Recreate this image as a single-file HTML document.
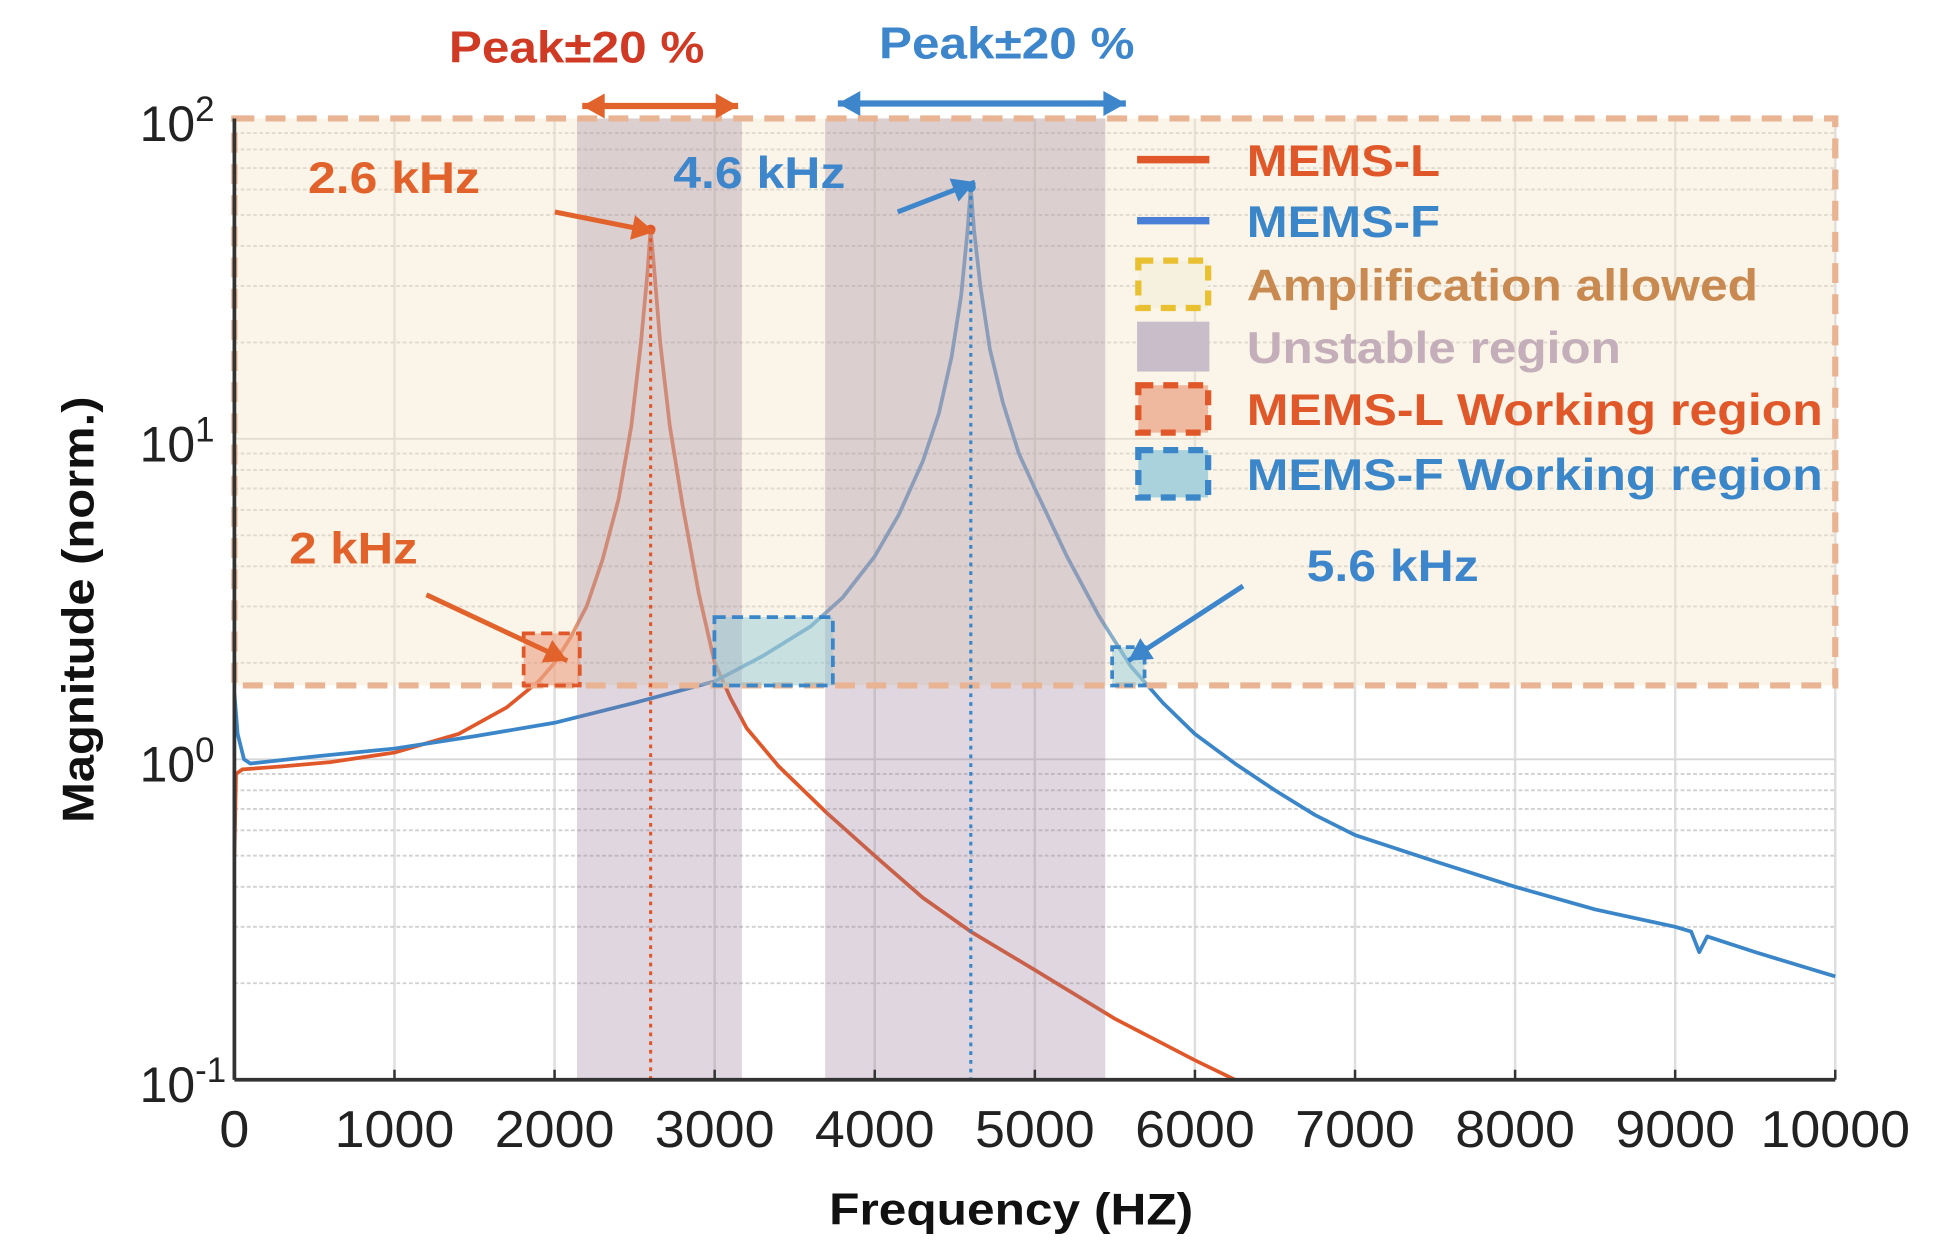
<!DOCTYPE html>
<html><head><meta charset="utf-8"><style>
html,body{margin:0;padding:0;background:#fff;}
svg{display:block;font-family:"Liberation Sans",sans-serif;}
</style></head><body>
<svg id="chart" width="1945" height="1255" viewBox="0 0 1560 1006.6" preserveAspectRatio="none" xmlns="http://www.w3.org/2000/svg">
<g id="grid"></g>
<g id="series"></g>
<g id="overlay"></g>
<g id="axes"></g>
<g id="annot">
  <text x="360" y="50" fill="#d03a24" font-size="36" font-weight="bold" textLength="205" lengthAdjust="spacingAndGlyphs">Peak±20 %</text>
  <text x="705" y="47" fill="#3d86cc" font-size="36" font-weight="bold" textLength="205" lengthAdjust="spacingAndGlyphs">Peak±20 %</text>
  <text x="247" y="155" fill="#e2622c" font-size="36" font-weight="bold" textLength="138" lengthAdjust="spacingAndGlyphs">2.6 kHz</text>
  <text x="540" y="151" fill="#3d86cc" font-size="36" font-weight="bold" textLength="138" lengthAdjust="spacingAndGlyphs">4.6 kHz</text>
  <text x="232" y="452" fill="#e2622c" font-size="36" font-weight="bold" textLength="103" lengthAdjust="spacingAndGlyphs">2 kHz</text>
  <text x="1048" y="466" fill="#3d86cc" font-size="36" font-weight="bold" textLength="138" lengthAdjust="spacingAndGlyphs">5.6 kHz</text>
  <text x="665" y="982" font-size="36" font-weight="bold" fill="#111" textLength="292" lengthAdjust="spacingAndGlyphs">Frequency (HZ)</text>
  <text transform="translate(75,660) rotate(-90)" font-size="36" font-weight="bold" fill="#111" textLength="342" lengthAdjust="spacingAndGlyphs">Magnitude (norm.)</text>
</g>
<g id="legend"></g>
</svg>
<script>
const xTicks=[0,1000,2000,3000,4000,5000,6000,7000,8000,9000,10000];
const yDecades=[-1,0,1,2];
const memsLFreq=[0,10,50,300,600,1000,1400,1700,1900,2000,2100,2200,2300,2400,2480,2540,2580,2600,2620,2660,2720,2800,2900,3000,3100,3200,3400,3700,4000,4300,4600,5000,5500,6000,6250];
const memsLMag=[0.5,0.9,0.93,0.95,0.98,1.05,1.2,1.45,1.75,2.0,2.4,3.0,4.2,6.5,11,20,33,45,35,20,11,6.2,3.3,2.0,1.55,1.25,0.95,0.68,0.5,0.37,0.29,0.22,0.155,0.115,0.1];
const memsFFreq=[0,20,60,100,500,1000,1500,2000,2500,3000,3300,3600,3800,4000,4150,4300,4400,4480,4540,4580,4600,4620,4660,4720,4800,4900,5000,5200,5400,5600,5800,6000,6250,6500,6750,7000,7500,8000,8500,9000,9100,9150,9200,9500,10000];
const memsFMag=[1.6,1.2,1.0,0.97,1.02,1.08,1.18,1.3,1.5,1.75,2.1,2.6,3.2,4.3,5.8,8.5,12,18,28,45,61,45,30,19,13,9,7,4.3,2.8,1.95,1.5,1.2,0.97,0.8,0.67,0.58,0.48,0.4,0.34,0.3,0.29,0.25,0.28,0.25,0.21];
const unstableBands=[[2140,3170],[3690,5440]];
const ampMin=1.7;
const NS="http://www.w3.org/2000/svg";
const X0=188,X1=1472,YT=95,YB=866;
const xs=f=>X0+(f/10000)*(X1-X0);
const ys=v=>YT+(2-Math.log10(v))/3*(YB-YT);
function mk(tag,attrs,parent){const e=document.createElementNS(NS,tag);for(const k in attrs)e.setAttribute(k,attrs[k]);parent.appendChild(e);return e;}
const grid=document.getElementById('grid'),series=document.getElementById('series'),ov=document.getElementById('overlay'),axes=document.getElementById('axes'),leg=document.getElementById('legend');
mk('rect',{x:X0,y:YT,width:X1-X0,height:YB-YT,fill:'#fff'},grid);
xTicks.forEach(t=>{const l=mk('line',{x1:xs(t),x2:xs(t),y1:YT,y2:YB,stroke:'#dedede','stroke-width':2},grid);

});
for(let d=-1;d<2;d++)for(let m=1;m<10;m++){const v=m*Math.pow(10,d);const l=mk('line',{x1:X0,x2:X1,y1:ys(v),y2:ys(v),stroke:m==1?'#d8d8d8':'#d0d0d0','stroke-width':1.5,'stroke-dasharray':m==1?'':'3 2'},grid);

}
function path(F,M){return F.map((f,i)=>(i?'L':'M')+xs(f).toFixed(1)+','+ys(Math.max(M[i],0.1)).toFixed(1)).join('');}
const pl=mk('path',{d:path(memsLFreq,memsLMag),fill:'none',stroke:'#e0582a','stroke-width':3,'stroke-linejoin':'round'},series);


const pf=mk('path',{d:path(memsFFreq,memsFMag),fill:'none',stroke:'#3a86c8','stroke-width':3,'stroke-linejoin':'round'},series);


const ampFill=mk('rect',{x:X0,y:YT,width:X1-X0,height:ys(ampMin)-YT,fill:'rgba(242,232,200,0.42)'},ov);


unstableBands.forEach(b=>{const r=mk('rect',{x:xs(b[0]),y:YT,width:xs(b[1])-xs(b[0]),height:YB-YT,fill:'rgba(150,118,150,0.3)'},ov);

});
const amp=mk('rect',{x:X0,y:YT,width:X1-X0,height:ys(ampMin)-YT,fill:'none',stroke:'#e9b493','stroke-width':5,'stroke-dasharray':'16 9'},ov);


mk('line',{x1:xs(2600),x2:xs(2600),y1:ys(45),y2:YB,stroke:'#e0582a','stroke-width':2.5,'stroke-dasharray':'3 4'},ov);
mk('line',{x1:xs(4600),x2:xs(4600),y1:ys(61),y2:YB,stroke:'#3a86c8','stroke-width':2.5,'stroke-dasharray':'3 4'},ov);
mk('circle',{cx:xs(2600),cy:ys(45),r:4,fill:'#e0582a'},ov);
mk('circle',{cx:xs(4600),cy:ys(61),r:4,fill:'#3a86c8'},ov);
const wl=mk('rect',{x:420,y:508,width:45,height:ys(ampMin)-508,fill:'rgba(235,150,120,0.55)',stroke:'#e0582a','stroke-width':3,'stroke-dasharray':'9 5'},ov);


const wf=mk('rect',{x:573,y:495,width:95,height:ys(ampMin)-495,fill:'rgba(140,200,215,0.45)',stroke:'#3a86c8','stroke-width':3,'stroke-dasharray':'9 5'},ov);


const wf2=mk('rect',{x:892,y:519,width:26,height:ys(ampMin)-519,fill:'rgba(140,200,215,0.45)',stroke:'#3a86c8','stroke-width':3,'stroke-dasharray':'7 4'},ov);


mk('line',{x1:X0,x2:X1,y1:YB,y2:YB,stroke:'#333','stroke-width':3},axes);
mk('line',{x1:X0,x2:X0,y1:YT,y2:YB,stroke:'#333','stroke-width':3},axes);
xTicks.forEach(t=>{mk('line',{x1:xs(t),x2:xs(t),y1:YB,y2:YB-8,stroke:'#333','stroke-width':2},axes);
const w=String(t).length*24;
const tx=mk('text',{x:xs(t),y:920,'font-size':42,'text-anchor':'middle',fill:'#222',textLength:w,lengthAdjust:'spacingAndGlyphs'},axes);tx.textContent=t;

});
yDecades.forEach(d=>{const y=ys(Math.pow(10,d));const tx=mk('text',{x:112,y:y+18,'font-size':40,fill:'#222'},axes);tx.textContent='10';


const sp=mk('tspan',{dy:-16,'font-size':28},tx);sp.textContent=String(d);});
function arrow(x1,y1,x2,y2,c,w,both){const a=Math.atan2(y2-y1,x2-x1),L=18,H=10;
mk('line',{x1:x1,y1:y1,x2:x2,y2:y2,stroke:c,'stroke-width':w},ov);
const head=(x,y,ang)=>mk('polygon',{points:`${x},${y} ${x-L*Math.cos(ang)+H*Math.sin(ang)},${y-L*Math.sin(ang)-H*Math.cos(ang)} ${x-L*Math.cos(ang)-H*Math.sin(ang)},${y-L*Math.sin(ang)+H*Math.cos(ang)}`,fill:c},ov);
head(x2,y2,a);if(both)head(x1,y1,a+Math.PI);}
arrow(467,85,592,85,'#e2622c',5,true);
arrow(672,83,903,83,'#3d86cc',5,true);
arrow(445,170,525,186,'#e2622c',4,false);
arrow(720,170,782,146,'#3d86cc',4,false);
arrow(342,477,455,530,'#e2622c',4,false);
arrow(997,470,905,530,'#3d86cc',4,false);
const legNames=['MEMS-L','MEMS-F','Amplification allowed','Unstable region','MEMS-L Working region','MEMS-F Working region'];
const legColors=['#e0582a','#3a86c8','#c98a52','#c4aeb9','#e0582a','#3a86c8'];
const legY=[128,177,228,278,328,380];
const legLen=[155,155,410,300,462,462];
legNames.forEach((n,i)=>{const g=mk('g',{},leg);


const y=legY[i];
if(i<2)mk('line',{x1:912,x2:970,y1:y,y2:y,stroke:i?'#4a7fd8':'#e0582a','stroke-width':6},g);
else if(i==3)mk('rect',{x:912,y:y-20,width:58,height:40,fill:'#c9bdc9'},g);
else{const st=i==2?'#e8c030':(i==4?'#e0582a':'#3a86c8'),fl=i==2?'#f6f1de':(i==4?'#efb9a0':'#a9d2dd');
mk('rect',{x:913,y:y-19,width:56,height:38,fill:fl,stroke:st,'stroke-width':5,'stroke-dasharray':'12 8'},g);}
const t=mk('text',{x:1000,y:y+13,'font-size':36,'font-weight':'bold',fill:legColors[i],textLength:legLen[i],lengthAdjust:'spacingAndGlyphs'},g);t.textContent=n;});
</script>
</body></html>
